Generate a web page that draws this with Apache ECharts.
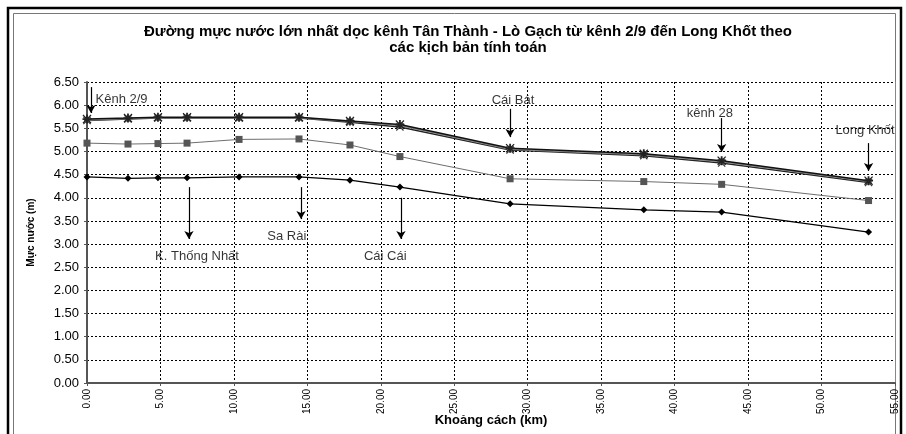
<!DOCTYPE html>
<html>
<head>
<meta charset="utf-8">
<script src="https://cdn.jsdelivr.net/npm/echarts@6/dist/echarts.min.js"></script>
<style>
  html, body { margin: 0; padding: 0; background: #fff; }
  #chart { width: 906px; height: 434px; }
</style>
</head>
<body>
<div id="chart"></div>
<script>
// --- Data ---
const distanceKm = [0, 2.79, 4.83, 6.81, 10.35, 14.43, 17.9, 21.3, 28.8, 37.9, 43.2, 53.2];

// three near-identical upper scenarios
const levelTopA = [5.70, 5.72, 5.74, 5.74, 5.74, 5.74, 5.66, 5.58, 5.07, 4.95, 4.80, 4.37];
const levelTopB = [5.68, 5.71, 5.73, 5.73, 5.73, 5.73, 5.65, 5.56, 5.05, 4.93, 4.78, 4.35];
const levelTopC = [5.67, 5.70, 5.72, 5.72, 5.72, 5.72, 5.63, 5.53, 5.03, 4.91, 4.75, 4.33];
const levelMid = [5.18, 5.16, 5.17, 5.18, 5.26, 5.27, 5.14, 4.89, 4.41, 4.35, 4.29, 3.94];
const levelLow = [4.45, 4.42, 4.43, 4.43, 4.45, 4.45, 4.38, 4.23, 3.87, 3.74, 3.69, 3.26];

// place annotations (arrow + name), in km / metres
const placeNames = ["Kênh 2/9", "K. Thống Nhất", "Sa Rài", "Cái Cái", "Cái Bát", "kênh 28", "Long Khốt"];
const labelKm = [2.35, 7.49, 13.6, 20.3, 29.0, 42.4, 52.96];
const labelLevel = [6.13, 2.74, 3.17, 2.74, 6.11, 5.83, 5.46];
const arrowKm = [0.27, 6.94, 14.57, 21.37, 28.8, 43.2, 53.2];
const arrowFrom = [6.39, 4.23, 4.23, 4.0, 5.92, 5.72, 5.18];
const arrowTo = [5.83, 3.11, 3.54, 3.11, 5.31, 4.99, 4.58];

const yTicks = [0, 6.5, 0.5];
const xTicks = [0, 55, 5];

// --- Helpers ---
const pairs = (ys) => distanceKm.map((x, i) => [x, ys[i]]);
const FONT = "Liberation Sans, Arial, sans-serif";

const asteriskPath = "path://M4,0L6,0L6,4L10,4L10,6L6,6L6,10L4,10L4,6L0,6L0,4L4,4Z M1,0L5,4L9,0L10,1L6,5L10,9L9,10L5,6L1,10L0,9L4,5L0,1Z";
const crossPath = "path://M1,0L5,4L9,0L10,1L6,5L10,9L9,10L5,6L1,10L0,9L4,5L0,1Z";

function lineSeries(name, ys, color, width, symbol, size, symColor) {
  return {
    name,
    type: "line",
    data: pairs(ys),
    symbol,
    symbolSize: size,
    showAllSymbol: true,
    lineStyle: { color, width },
    itemStyle: { color: symColor, borderWidth: 0 },
    z: 3,
    animation: false,
  };
}

const chart = echarts.init(document.getElementById("chart"), null, { renderer: "canvas" });

chart.setOption({
  animation: false,
  backgroundColor: "#fff",
  textStyle: { fontFamily: FONT },
  title: {
    text: "Đường mực nước lớn nhất dọc kênh Tân Thành - Lò Gạch từ kênh 2/9 đến Long Khốt theo\ncác kịch bản tính toán",
    left: 463,
    top: 19,
    textAlign: "center",
    textStyle: { fontFamily: FONT, fontSize: 15, fontWeight: "bold", color: "#000", lineHeight: 16 },
  },
  grid: { left: 87, right: 11, top: 82, bottom: 51, containLabel: false, outerBoundsMode: "none" },
  xAxis: {
    type: "value",
    min: xTicks[0],
    max: xTicks[1],
    interval: xTicks[2],
    name: "Khoảng cách (km)",
    nameLocation: "middle",
    nameGap: 31,
    nameMoveOverlap: false,
    nameTextStyle: { fontFamily: FONT, fontSize: 13, fontWeight: "bold", color: "#000" },
    axisLine: { show: true, onZero: false, lineStyle: { color: "#555", width: 2 } },
    axisTick: { show: true, length: 3, lineStyle: { color: "#555" } },
    axisLabel: {
      rotate: 90,
      fontSize: 10,
      color: "#000",
      margin: 6,
      formatter: (v) => v.toFixed(2),
    },
    splitLine: { show: true, lineStyle: { color: "#000", type: [2, 2], width: 1 } },
  },
  yAxis: [
    {
      type: "value",
      min: yTicks[0],
      max: yTicks[1],
      interval: yTicks[2],
      name: "Mực nước (m)",
      nameLocation: "middle",
      nameGap: 51,
      nameMoveOverlap: false,
      nameTextStyle: { fontFamily: FONT, fontSize: 10, fontWeight: "bold", color: "#000" },
      axisLine: { show: true, lineStyle: { color: "#555", width: 2 } },
      axisTick: { show: true, length: 3, lineStyle: { color: "#555" } },
      axisLabel: { fontSize: 13, color: "#000", margin: 8, formatter: (v) => v.toFixed(2) },
      splitLine: { show: true, lineStyle: { color: "#000", type: [2, 2], width: 1 } },
    },
    {
      type: "value",
      min: yTicks[0],
      max: yTicks[1],
      interval: yTicks[2],
      position: "right",
      axisLine: { show: true, lineStyle: { color: "#888", width: 1 } },
      axisTick: { show: false },
      axisLabel: { show: false },
      splitLine: { show: false },
    },
  ],
  series: [
    lineSeries("Thấp", levelLow, "#000", 1.3, "diamond", 7, "#000"),
    lineSeries("Trung bình", levelMid, "#6e6e6e", 1, "rect", 7, "#555"),
    lineSeries("Cao C", levelTopC, "#222", 1.5, crossPath, 8, "#333"),
    lineSeries("Cao B", levelTopB, "#888", 1.5, "rect", 6, "#555"),
    lineSeries("Cao A", levelTopA, "#111", 1.5, asteriskPath, 9, "#222"),
    {
      name: "arrows",
      type: "line",
      data: [],
      silent: true,
      markLine: {
        silent: true,
        animation: false,
        symbol: ["none", "arrow"],
        symbolSize: [7, 8],
        label: { show: false },
        lineStyle: { color: "#000", width: 1.2, type: "solid" },
        data: arrowKm.map((x, i) => [{ coord: [x, arrowFrom[i]] }, { coord: [x, arrowTo[i]] }]),
      },
    },
    {
      name: "places",
      type: "scatter",
      data: placeNames.map((n, i) => ({ value: [labelKm[i], labelLevel[i]], name: n })),
      symbolSize: 0,
      silent: true,
      label: {
        show: true,
        position: "inside",
        formatter: (p) => p.name,
        fontFamily: FONT,
        fontSize: 13,
        color: "#000",
      },
      z: 5,
    },
  ],
  graphic: [
    {
      type: "rect",
      shape: { x: 8, y: 8, width: 893, height: 440 },
      style: { fill: null, stroke: "#000", lineWidth: 2.5 },
      silent: true,
    },
    {
      type: "rect",
      shape: { x: 13.5, y: 13.5, width: 882, height: 440 },
      style: { fill: null, stroke: "#777", lineWidth: 1 },
      silent: true,
    },
  ],
});
</script>
</body>
</html>
